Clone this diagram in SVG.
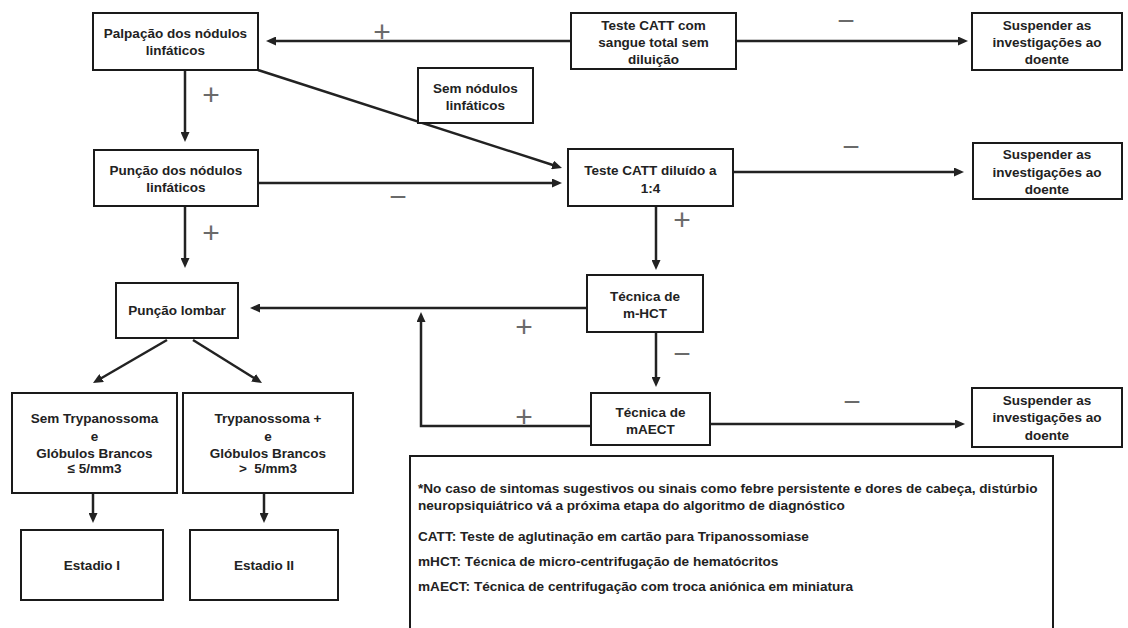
<svg xmlns="http://www.w3.org/2000/svg" width="1128" height="628" viewBox="0 0 1128 628">
<defs>
<style>
.box{fill:#fff;stroke:#1a1a1a;stroke-width:2}
.t{font-family:"Liberation Sans",Arial,sans-serif;font-size:13.5px;font-weight:bold;fill:#222;text-anchor:middle}
.lg{font-family:"Liberation Sans",Arial,sans-serif;font-size:13.6px;font-weight:bold;fill:#222}
.c{fill:none;stroke:#222;stroke-width:2.5}
.s{font-family:"Liberation Sans",Arial,sans-serif;font-size:30px;fill:#6a6a6a;text-anchor:middle}
</style>
<marker id="ah" markerUnits="userSpaceOnUse" markerWidth="10" markerHeight="9" refX="2" refY="4.5" orient="auto">
<path d="M0,0 L10,4.5 L0,9 Z" fill="#222"/>
</marker>
</defs>
<rect width="1128" height="628" fill="#fff"/>

<g id="connectors">
<line class="c" x1="571" y1="41" x2="274" y2="41" marker-end="url(#ah)"/>
<line class="c" x1="736" y1="41" x2="960" y2="41" marker-end="url(#ah)"/>
<line class="c" x1="185" y1="70" x2="185" y2="134" marker-end="url(#ah)"/>
<line class="c" x1="258" y1="70" x2="554.4" y2="165.5" marker-end="url(#ah)"/>
<line class="c" x1="258" y1="183" x2="554" y2="183" marker-end="url(#ah)"/>
<line class="c" x1="733" y1="172" x2="956" y2="172" marker-end="url(#ah)"/>
<line class="c" x1="656" y1="206" x2="656" y2="262" marker-end="url(#ah)"/>
<line class="c" x1="185" y1="206" x2="185" y2="260" marker-end="url(#ah)"/>
<line class="c" x1="587" y1="308" x2="258" y2="308" marker-end="url(#ah)"/>
<line class="c" x1="656" y1="332" x2="656" y2="379" marker-end="url(#ah)"/>
<polyline class="c" points="591,426 421,426 421,320" marker-end="url(#ah)"/>
<line class="c" x1="710" y1="424" x2="957" y2="424" marker-end="url(#ah)"/>
<line class="c" x1="167" y1="340" x2="99.9" y2="379" marker-end="url(#ah)"/>
<line class="c" x1="193" y1="340" x2="255.2" y2="378.8" marker-end="url(#ah)"/>
<line class="c" x1="93" y1="493" x2="93" y2="515" marker-end="url(#ah)"/>
<line class="c" x1="264" y1="493" x2="264" y2="515" marker-end="url(#ah)"/>
</g>

<g id="signs">
<text class="s" x="382" y="42">+</text>
<text class="s" x="846" y="31">−</text>
<text class="s" x="211" y="105">+</text>
<text class="s" x="398" y="207">−</text>
<text class="s" x="851" y="157">−</text>
<text class="s" x="682" y="230">+</text>
<text class="s" x="211" y="243">+</text>
<text class="s" x="524" y="337">+</text>
<text class="s" x="682" y="364">−</text>
<text class="s" x="524" y="427">+</text>
<text class="s" x="852" y="412">−</text>
</g>

<g id="palpacao">
<rect class="box" x="93" y="13" width="165" height="57"/>
<text class="t" x="175.5" y="38">Palpação dos nódulos</text>
<text class="t" x="175.5" y="55">linfáticos</text>
</g>
<g id="catt-total">
<rect class="box" x="571" y="13" width="165" height="56"/>
<text class="t" x="653.5" y="30">Teste CATT com</text>
<text class="t" x="653.5" y="47">sangue total sem</text>
<text class="t" x="653.5" y="64">diluição</text>
</g>
<g id="suspender-1">
<rect class="box" x="972" y="13" width="150" height="57"/>
<text class="t" x="1047" y="30">Suspender as</text>
<text class="t" x="1047" y="47">investigações ao</text>
<text class="t" x="1047" y="64">doente</text>
</g>
<g id="sem-nodulos">
<rect class="box" x="418" y="68" width="115" height="55"/>
<text class="t" x="475.5" y="93">Sem nódulos</text>
<text class="t" x="475.5" y="110">linfáticos</text>
</g>
<g id="puncao-nodulos">
<rect class="box" x="94" y="150" width="164" height="56"/>
<text class="t" x="176" y="175">Punção dos nódulos</text>
<text class="t" x="176" y="192">linfáticos</text>
</g>
<g id="catt-diluido">
<rect class="box" x="568" y="149" width="165" height="57"/>
<text class="t" x="650.5" y="175">Teste CATT diluído a</text>
<text class="t" x="650.5" y="193">1:4</text>
</g>
<g id="suspender-2">
<rect class="box" x="973" y="143" width="149" height="56"/>
<text class="t" x="1047" y="159">Suspender as</text>
<text class="t" x="1047" y="177">investigações ao</text>
<text class="t" x="1047" y="194">doente</text>
</g>
<g id="mhct">
<rect class="box" x="587" y="275" width="116" height="57"/>
<text class="t" x="645" y="301">Técnica de</text>
<text class="t" x="645" y="318">m-HCT</text>
</g>
<g id="puncao-lombar">
<rect class="box" x="116" y="283" width="122" height="55"/>
<text class="t" x="177" y="315">Punção lombar</text>
</g>
<g id="maect">
<rect class="box" x="591" y="393" width="119" height="52"/>
<text class="t" x="650.5" y="417">Técnica de</text>
<text class="t" x="650.5" y="434">mAECT</text>
</g>
<g id="suspender-3">
<rect class="box" x="972" y="388" width="150" height="59"/>
<text class="t" x="1047" y="405">Suspender as</text>
<text class="t" x="1047" y="422">investigações ao</text>
<text class="t" x="1047" y="440">doente</text>
</g>
<g id="sem-tryp">
<rect class="box" x="12" y="393" width="165" height="100"/>
<text class="t" x="94.5" y="423">Sem Trypanossoma</text>
<text class="t" x="94.5" y="441">e</text>
<text class="t" x="94.5" y="458">Glóbulos Brancos</text>
<text class="t" x="94.5" y="473">≤ 5/mm3</text>
</g>
<g id="tryp-pos">
<rect class="box" x="183" y="393" width="170" height="100"/>
<text class="t" x="268" y="423">Trypanossoma +</text>
<text class="t" x="268" y="441">e</text>
<text class="t" x="268" y="458">Glóbulos Brancos</text>
<text class="t" x="268" y="473" xml:space="preserve">&gt;  5/mm3</text>
</g>
<g id="estadio-1">
<rect class="box" x="21" y="530" width="142" height="70"/>
<text class="t" x="92" y="570">Estadio I</text>
</g>
<g id="estadio-2">
<rect class="box" x="190" y="530" width="148" height="70"/>
<text class="t" x="264" y="570">Estadio II</text>
</g>
<g id="legend">
<rect class="box" x="410" y="456" width="643" height="200"/>
<text class="lg" x="418" y="493">*No caso de sintomas sugestivos ou sinais como febre persistente e dores de cabeça, distúrbio</text>
<text class="lg" x="418" y="510">neuropsiquiátrico vá a próxima etapa do algoritmo de diagnóstico</text>
<text class="lg" x="418" y="541">CATT: Teste de aglutinação em cartão para Tripanossomiase</text>
<text class="lg" x="418" y="566">mHCT: Técnica de micro-centrifugação de hematócritos</text>
<text class="lg" x="418" y="591">mAECT: Técnica de centrifugação com troca aniónica em miniatura</text>
</g>
</svg>
